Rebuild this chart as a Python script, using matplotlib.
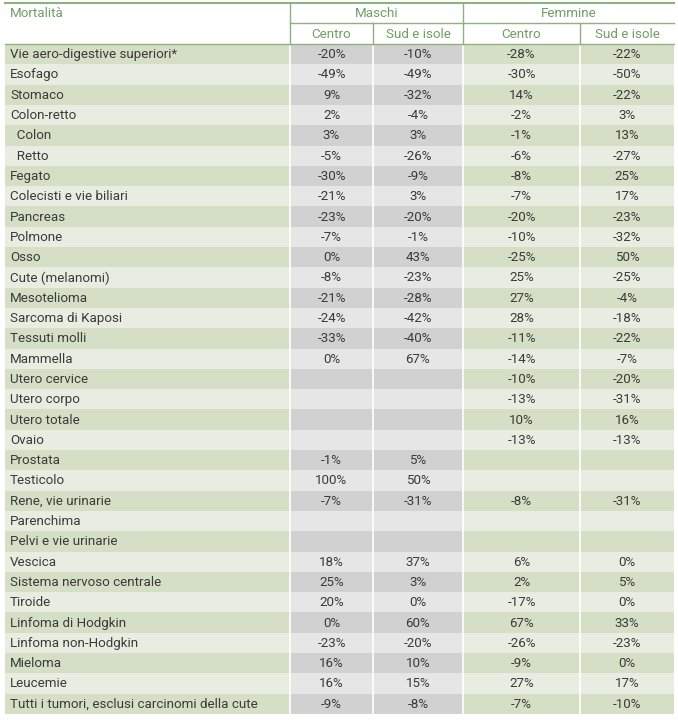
import matplotlib.pyplot as plt
from matplotlib.patches import Rectangle

plt.rcParams['font.family'] = ['Roboto', 'DejaVu Sans']

labels = [
    "Vie aero-digestive superiori*", "Esofago", "Stomaco", "Colon-retto",
    "  Colon", "  Retto", "Fegato", "Colecisti e vie biliari", "Pancreas",
    "Polmone", "Osso", "Cute (melanomi)", "Mesotelioma", "Sarcoma di Kaposi",
    "Tessuti molli", "Mammella", "Utero cervice", "Utero corpo", "Utero totale",
    "Ovaio", "Prostata", "Testicolo", "Rene, vie urinarie", "Parenchima",
    "Pelvi e vie urinarie", "Vescica", "Sistema nervoso centrale", "Tiroide",
    "Linfoma di Hodgkin", "Linfoma non-Hodgkin", "Mieloma", "Leucemie",
    "Tutti i tumori, esclusi carcinomi della cute",
]
m_centro = ["-20%", "-49%", "9%", "2%", "3%", "-5%", "-30%", "-21%", "-23%",
            "-7%", "0%", "-8%", "-21%", "-24%", "-33%", "0%", "", "", "", "",
            "-1%", "100%", "-7%", "", "", "18%", "25%", "20%", "0%", "-23%",
            "16%", "16%", "-9%"]
m_sud = ["-10%", "-49%", "-32%", "-4%", "3%", "-26%", "-9%", "3%", "-20%",
         "-1%", "43%", "-23%", "-28%", "-42%", "-40%", "67%", "", "", "", "",
         "5%", "50%", "-31%", "", "", "37%", "3%", "0%", "60%", "-20%",
         "10%", "15%", "-8%"]
f_centro = ["-28%", "-30%", "14%", "-2%", "-1%", "-6%", "-8%", "-7%", "-20%",
            "-10%", "-25%", "25%", "27%", "28%", "-11%", "-14%", "-10%", "-13%",
            "10%", "-13%", "", "", "-8%", "", "", "6%", "2%", "-17%", "67%",
            "-26%", "-9%", "27%", "-7%"]
f_sud = ["-22%", "-50%", "-22%", "3%", "13%", "-27%", "25%", "17%", "-23%",
         "-32%", "50%", "-25%", "-4%", "-18%", "-22%", "-7%", "-20%", "-31%",
         "16%", "-13%", "", "", "-31%", "", "", "0%", "5%", "0%", "33%",
         "-23%", "0%", "17%", "-10%"]

groups = ["Maschi", "Femmine"]
subcols = ["Centro", "Sud e isole", "Centro", "Sud e isole"]

# layout (pixels)
W, H = 678, 720
x_edges = [5, 290, 373, 463, 580, 674]
top, h1, h2 = 3, 23, 44
row_h = 20.3

green_dark, green_light = "#d5dfc6", "#e9ede1"
gray_dark, gray_light = "#d1d1d1", "#e6e6e6"
line_col = "#8fb080"
head_col = "#6f9e62"
txt_col = "#3a3a3a"
fs = 9.6

fig = plt.figure(figsize=(W / 100, H / 100), dpi=100)
ax = fig.add_axes([0, 0, 1, 1])
ax.set_xlim(0, W)
ax.set_ylim(H, 0)
ax.axis("off")

cols = [m_centro, m_sud, f_centro, f_sud]
for i, lab in enumerate(labels):
    y0 = h2 + i * row_h
    dark = i % 2 == 0
    for c in range(5):
        x0, x1 = x_edges[c], x_edges[c + 1]
        if c in (1, 2):
            fc = gray_dark if dark else gray_light
        else:
            fc = green_dark if dark else green_light
        ax.add_patch(Rectangle((x0, y0), x1 - x0, row_h, facecolor=fc,
                               edgecolor="none"))
    ax.text(x_edges[0] + 5, y0 + row_h / 2 + 0.5, lab, fontsize=fs,
            color=txt_col, va="center", ha="left")
    for c, vals in enumerate(cols):
        xc = (x_edges[c + 1] + x_edges[c + 2]) / 2
        ax.text(xc, y0 + row_h / 2 + 0.5, vals[i], fontsize=fs, color=txt_col,
                va="center", ha="center")

y_end = h2 + len(labels) * row_h
# white separators between value columns
for x in x_edges[1:5]:
    ax.plot([x, x], [h2, y_end], color="white", lw=1.2)

# header
ax.plot([x_edges[0], x_edges[-1]], [top, top], color=line_col, lw=1.5)
ax.plot([x_edges[1], x_edges[-1]], [h1, h1], color=line_col, lw=1)
ax.plot([x_edges[0], x_edges[-1]], [h2, h2], color=line_col, lw=1)
for x in (x_edges[1], x_edges[3]):
    ax.plot([x, x], [top, h2], color=line_col, lw=1)
for x in (x_edges[2], x_edges[4]):
    ax.plot([x, x], [h1, h2], color=line_col, lw=1)

ax.text(x_edges[0] + 5, (top + h1) / 2 + 0.5, "Mortalità", fontsize=fs,
        color=head_col, va="center", ha="left")
ax.text((x_edges[1] + x_edges[3]) / 2, (top + h1) / 2 + 0.5, groups[0],
        fontsize=fs, color=head_col, va="center", ha="center")
ax.text((x_edges[3] + x_edges[5]) / 2, (top + h1) / 2 + 0.5, groups[1],
        fontsize=fs, color=head_col, va="center", ha="center")
for c, name in enumerate(subcols):
    xc = (x_edges[c + 1] + x_edges[c + 2]) / 2
    ax.text(xc, (h1 + h2) / 2 + 0.5, name, fontsize=fs, color=head_col,
            va="center", ha="center")

fig.savefig("out.png", dpi=100)
